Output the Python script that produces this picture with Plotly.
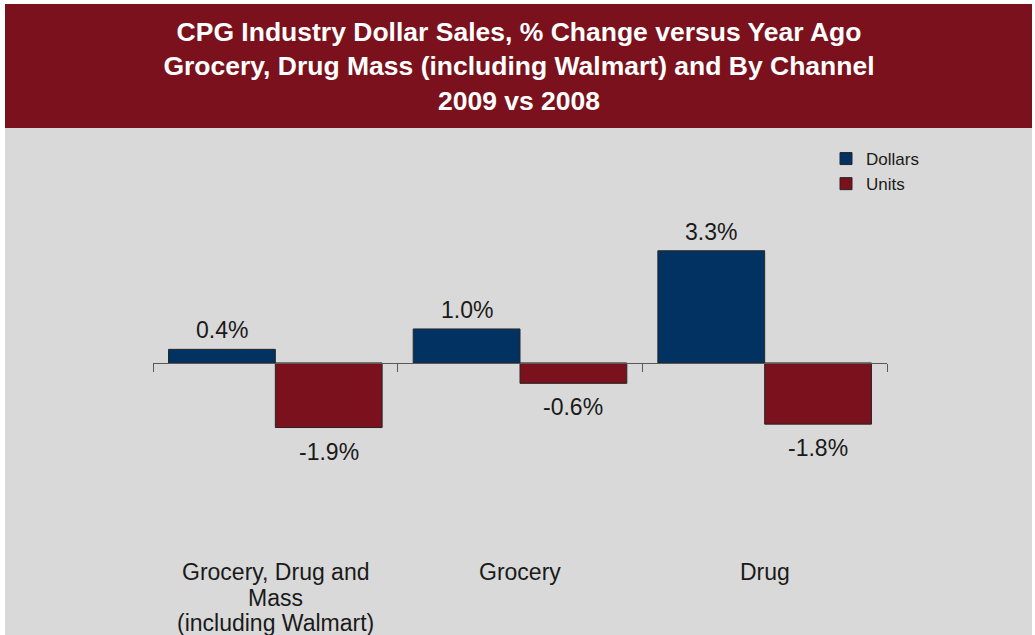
import plotly.graph_objects as go

# Channels and % change 2009 vs 2008
categories = ["Grocery, Drug and<br>Mass<br>(including Walmart)", "Grocery", "Drug"]
dollars = [0.4, 1.0, 3.3]
units = [-1.9, -0.6, -1.8]
series_names = ["Dollars", "Units"]

NAVY = "#023261"
MAROON = "#7A111C"
PANEL = "#D9D9D9"
FONT = "Arial, Liberation Sans, sans-serif"

W, H = 1035, 635
ML, MR, MT, MB = 153, 148, 159, 80
PW, PH = W - ML - MR, H - MT - MB
Y_RANGE = [-5.65, 6.0]
BARGAP = 0.127


def px_x(px):
    return (px - ML) / PW


def px_y(py):
    return (H - MB - py) / PH


xs = list(range(len(categories)))

fig = go.Figure()
for name, vals, color in [(series_names[0], dollars, NAVY), (series_names[1], units, MAROON)]:
    fig.add_trace(go.Bar(
        x=xs, y=vals, name=name,
        marker=dict(color=color, line=dict(color="#262626", width=1)),
        hoverinfo="skip",
    ))

# Zero line with ticks at category boundaries
fig.add_trace(go.Scatter(x=[-0.5, 2.5], y=[0, 0], xaxis="x2", mode="lines",
                         line=dict(width=0), showlegend=False, hoverinfo="skip"))

# Value labels above / below each bar
half = (1 - BARGAP) / 4
annotations = []
for vals, off in [(dollars, -half), (units, half)]:
    for i, v in enumerate(vals):
        annotations.append(dict(
            x=i + off, y=v, xref="x", yref="y", text=f"{v:.1f}%",
            showarrow=False, yanchor="middle",
            yshift=19 if v >= 0 else -24,
            font=dict(family=FONT, size=23, color="#1a1a1a"),
        ))

# Category labels below the plot, one line at a time for tight spacing
LABEL_ROWS = [572, 598, 623]
for i, cat in enumerate(categories):
    for j, line in enumerate(cat.split("<br>")):
        annotations.append(dict(
            x=i, y=px_y(LABEL_ROWS[j]), xref="x", yref="paper", text=line,
            showarrow=False, yanchor="middle", xanchor="center",
            font=dict(family=FONT, size=23, color="#1a1a1a"),
        ))

zero_pos = (0 - Y_RANGE[0]) / (Y_RANGE[1] - Y_RANGE[0])

fig.update_layout(
    width=W, height=H,
    margin=dict(l=ML, r=MR, t=MT, b=MB, autoexpand=False),
    paper_bgcolor="white",
    plot_bgcolor="rgba(0,0,0,0)",
    barmode="group", bargap=BARGAP, bargroupgap=0,
    font=dict(family=FONT, color="#1a1a1a"),
    title=dict(
        text="<b>CPG Industry Dollar Sales, % Change versus Year Ago</b><br>"
             "<b>Grocery, Drug Mass (including Walmart) and By Channel</b><br>"
             "<b>2009 vs 2008</b>",
        x=519 / W, y=(H - 41) / H, xref="container", yref="container",
        xanchor="center", yanchor="middle",
        font=dict(family=FONT, size=26.5, color="white"),
        automargin=False,
    ),
    xaxis=dict(
        range=[-0.5, 2.5], tickvals=xs, showticklabels=False,
        showline=False, showgrid=False, zeroline=False, ticks="",
        automargin=False,
    ),
    xaxis2=dict(
        range=[-0.5, 2.5], overlaying="x", anchor="free", position=zero_pos,
        side="bottom", tickvals=[-0.5, 0.5, 1.5, 2.5], showticklabels=False,
        ticks="outside", ticklen=8, tickcolor="#595959", tickwidth=1,
        showline=True, linecolor="#595959", linewidth=1,
        showgrid=False, zeroline=False, automargin=False,
    ),
    yaxis=dict(range=Y_RANGE, visible=False, showgrid=False, zeroline=False,
               automargin=False),
    legend=dict(
        x=px_x(826), y=px_y(141), xanchor="left", yanchor="top",
        bgcolor="rgba(0,0,0,0)", font=dict(family=FONT, size=17, color="#1a1a1a"),
        itemwidth=30, tracegroupgap=0,
    ),
    annotations=annotations,
    shapes=[
        dict(type="rect", xref="paper", yref="paper", layer="below",
             x0=px_x(5), x1=px_x(1032), y0=px_y(640), y1=px_y(128),
             fillcolor=PANEL, line=dict(width=0)),
        dict(type="rect", xref="paper", yref="paper", layer="below",
             x0=px_x(5), x1=px_x(1032), y0=px_y(128), y1=px_y(4),
             fillcolor=MAROON, line=dict(width=0)),
    ],
)

fig.write_html("out.html")
